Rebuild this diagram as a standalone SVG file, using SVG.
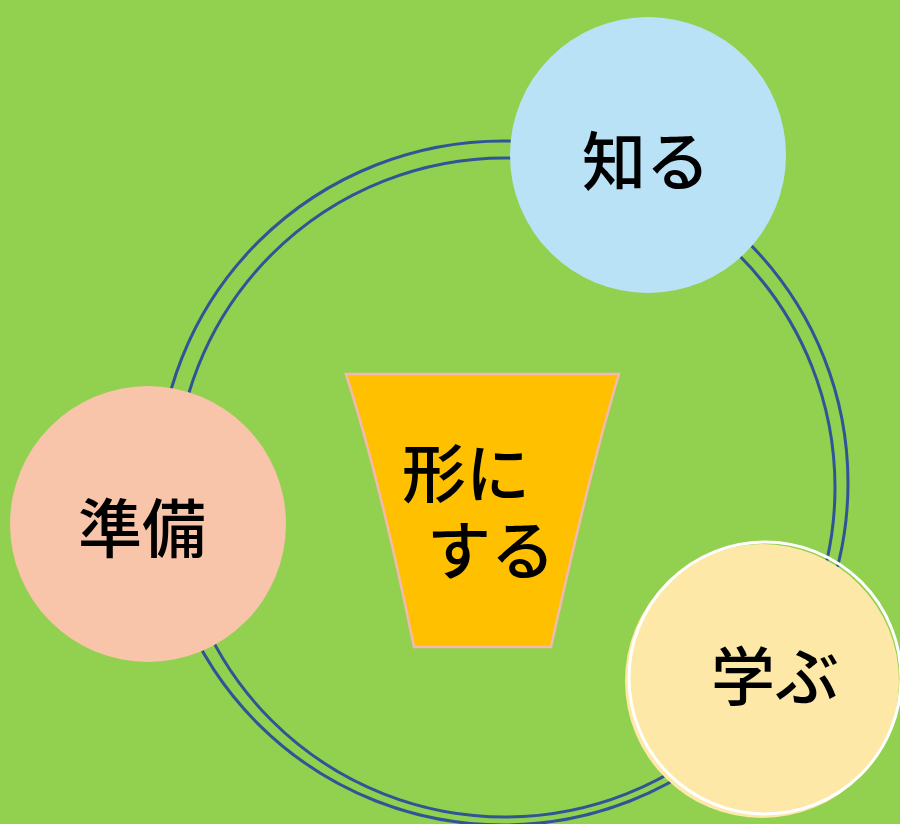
<svg xmlns="http://www.w3.org/2000/svg" width="900" height="824" viewBox="0 0 900 824">
<style>
.ring{fill:none;stroke:#2F5597;stroke-width:3}
.lbl{font-family:"Noto Sans CJK JP","Noto Sans CJK SC",sans-serif;font-size:64px;font-weight:500;fill:#000;dominant-baseline:central}
</style>
<rect x="0" y="0" width="900" height="824" fill="#92D050"/>
<g id="connectors">
<ellipse class="ring" cx="503" cy="483" rx="345" ry="342"/>
<ellipse class="ring" cx="505" cy="487.5" rx="330" ry="329.5"/>
</g>
<g id="node-shiru">
<circle cx="648" cy="155" r="138" fill="#BAE2F7"/>
<text class="lbl" x="646" y="157" text-anchor="middle">知る</text>
</g>
<g id="node-junbi">
<circle cx="148" cy="524" r="138" fill="#F8C4AA"/>
<text class="lbl" x="142" y="524" text-anchor="middle">準備</text>
</g>
<g id="node-manabu">
<circle cx="762" cy="681" r="137" fill="#FEE8A8"/>
<circle cx="765" cy="678" r="136" fill="none" stroke="#FFFFFF" stroke-width="3"/>
<text class="lbl" x="775" y="672" text-anchor="middle">学ぶ</text>
</g>
<g id="node-katachi">
<path d="M346,374 L619,374 Q590,470 551,647 L414,647 Q380,480 346,374 Z" fill="#FFC000" stroke="#F4B8B0" stroke-width="2.5"/>
<text class="lbl"><tspan x="402" y="469">形に</tspan><tspan x="427" y="546">する</tspan></text>
</g>
</svg>
